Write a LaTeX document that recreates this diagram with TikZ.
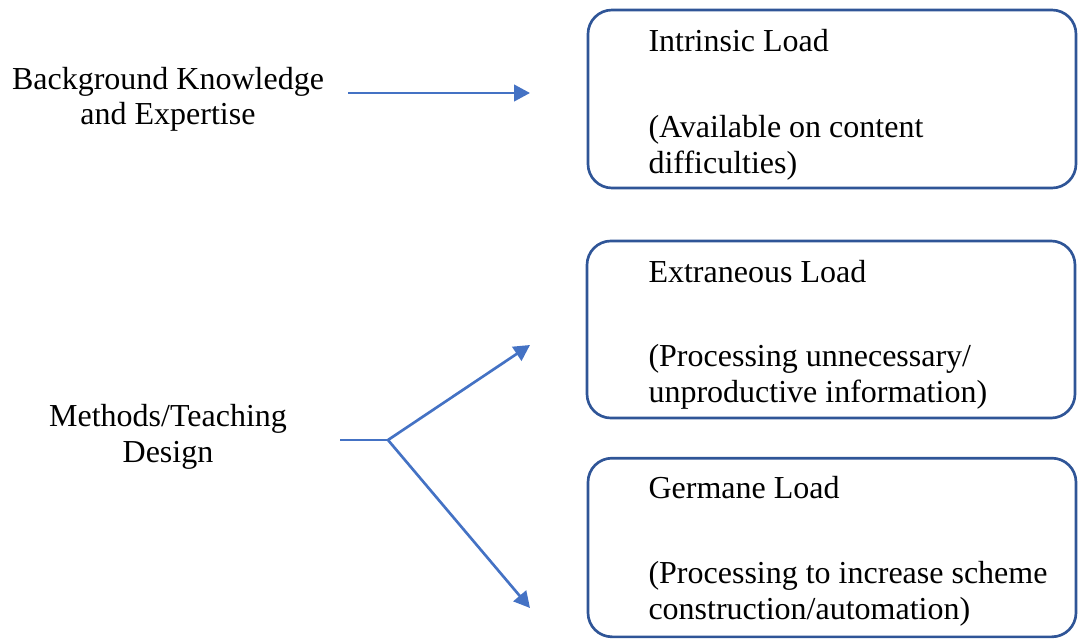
\documentclass[tikz,border=0pt]{standalone}
\usepackage{fontspec}
\setmainfont{Liberation Serif}
\usetikzlibrary{arrows.meta, positioning}
\definecolor{arrowblue}{HTML}{4472C4}
\definecolor{boxblue}{HTML}{2F5597}
\tikzset{
  loadbox/.style={draw=boxblue, line width=1pt, rounded corners=9pt, minimum width=183pt, inner sep=0pt},
  title/.style={anchor=base west, inner sep=0pt},
  desc/.style={anchor=base west, inner sep=0pt, align=left},
  sidelabel/.style={anchor=base, inner sep=0pt, align=center},
  link/.style={arrowblue, line width=1pt},
  arrow/.style={-{Triangle[length=6pt, width=6.2pt]}, arrowblue, line width=1pt},
  every node/.style={font=\fontsize{12}{13.3}\selectfont}
}
\begin{document}
\begin{tikzpicture}[x=0.375pt,y=-0.375pt]
    \useasboundingbox (0,0) rectangle (1083,639);
    % the three loads
    \node[loadbox, minimum height=66.75pt] (intr) at (832,99) {};
    \node[loadbox, minimum height=66.4pt] (extr) at (831,329.5) {};
    \node[loadbox, minimum height=67pt] (germ) at (832,547.5) {};
    \node[title] (intr title) at (648,52) {Intrinsic Load};
    \node[desc] (intr desc) at (648,173) {(Available on content\\difficulties)};
    \node[title] (extr title) at (648,282) {Extraneous Load};
    \node[desc] (extr desc) at (648,402) {(Processing unnecessary/\\unproductive information)};
    \node[title] (germ title) at (648,498) {Germane Load};
    \node[desc] (germ desc) at (648,619) {(Processing to increase scheme\\construction/automation)};
    % factors on the left
    \node[sidelabel] (bgk) at (168,125) {Background Knowledge\\and Expertise};
    \node[sidelabel] (mtd) at (168,462) {Methods/Teaching\\Design};
    \coordinate (bgk out) at (348,93);
    \coordinate (intr in) at (530,93);
    \coordinate (mtd out) at (340,440);
    \coordinate (fork) at (388,440);
    \coordinate (extr in) at (530,345);
    \coordinate (germ in) at (530,608);
    \draw[arrow] (bgk out) -- (intr in);
    \draw[link] (mtd out) -- (fork);
    \draw[arrow] (fork) -- (extr in);
    \draw[arrow] (fork) -- (germ in);
\end{tikzpicture}
\end{document}
